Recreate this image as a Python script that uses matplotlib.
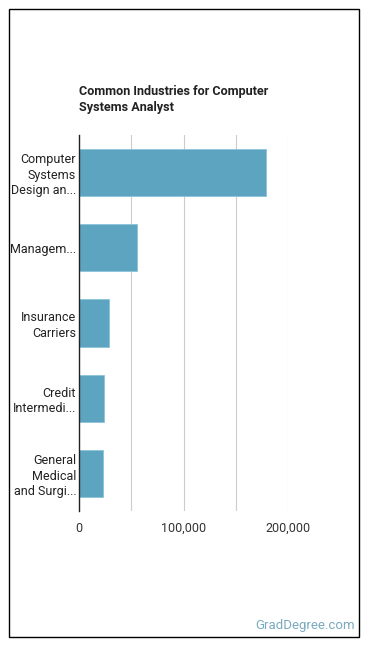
import matplotlib.pyplot as plt
from matplotlib.patches import Rectangle

plt.rcParams['font.family'] = ['Roboto', 'DejaVu Sans']

industries = ['Computer\nSystems\nDesign an...', 'Managem...', 'Insurance\nCarriers',
              'Credit\nIntermedi...', 'General\nMedical\nand Surgi...']
employees = [179000, 55700, 29000, 24200, 23300]
xticks = [0, 50000, 100000, 150000, 200000]
xtick_labels = ['0', '', '100,000', '', '200,000']

W, H = 370, 648
fig = plt.figure(figsize=(W / 100, H / 100), dpi=100)

# outer frame
fig.patches.append(Rectangle((9 / W, 1 - 637 / H), 350 / W, 628 / H, transform=fig.transFigure,
                             fill=False, edgecolor='black', linewidth=1))

ax = fig.add_axes([79 / W, 1 - 511 / H, (288 - 79) / W, (511 - 135) / H])
pos = list(range(len(industries)))
ax.barh(pos, employees, height=0.63, color='#5DA4C1', edgecolor='#8cc3d8', linewidth=0.6, zorder=3)
ax.set_ylim(4.5, -0.5)
ax.set_xlim(0, 200000)
ax.set_yticks(pos)
ax.set_yticklabels(industries, fontsize=9, color='#222222', linespacing=1.25)
ax.set_xticks(xticks)
ax.set_xticklabels(xtick_labels, fontsize=9, color='#333333')
ax.tick_params(axis='y', length=0, pad=2)
ax.tick_params(axis='x', length=0, pad=8)
ax.grid(axis='x', color='#cccccc', linewidth=0.8, zorder=0)
for s in ['top', 'right', 'bottom']:
    ax.spines[s].set_visible(False)
ax.spines['left'].set_color('#222222')
ax.spines['left'].set_linewidth(1)
ax.spines['left'].set_zorder(4)

fig.text(79 / W, 1 - 99 / H, 'Common Industries for Computer\nSystems Analyst', fontsize=9.1,
         fontweight='bold', color='#222222', va='center', ha='left', linespacing=1.3)
fig.text(355 / W, 1 - 626 / H, 'GradDegree.com', fontsize=9.5, color='#7BAAC0',
         ha='right', va='center')

fig.savefig('out.png', dpi=100)
